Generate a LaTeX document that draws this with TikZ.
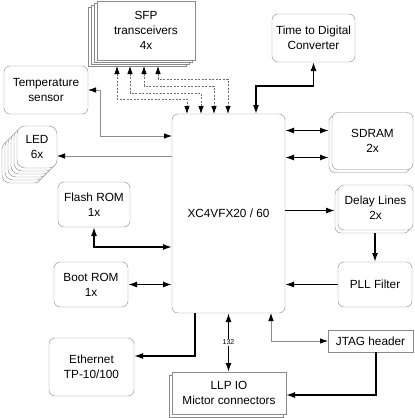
\documentclass[tikz,border=0pt]{standalone}
\usepackage{fontspec}
\setmainfont{Liberation Sans}
\usetikzlibrary{arrows.meta}
\definecolor{frame}{HTML}{8A8A8A}
\definecolor{wire}{HTML}{8C8C8C}
\definecolor{dotwire}{HTML}{707070}

\tikzset{
  box/.style={draw=frame,fill=white,rounded corners=6pt,align=center,inner sep=1pt,outer sep=0pt},
  sqbox/.style={draw=frame,fill=white,align=center,inner sep=1pt,outer sep=0pt},
  ledbox/.style={box,rounded corners=8pt,minimum width=40pt,minimum height=42pt},
  bus/.style={line width=1.5pt},
  ctl/.style={wire,line width=0.8pt,>={Latex[length=8pt,width=5.5pt,black]}},
  dots/.style={dotwire,line width=0.8pt,dash pattern=on 2pt off 1.5pt,>={Latex[length=8pt,width=5.5pt,black]}},
  num/.style={fill=white,inner sep=1pt,font=\fontsize{7}{8}\selectfont}
}

\begin{document}
\begin{tikzpicture}[x=1pt,y=-1pt,>={Latex[length=9pt,width=6pt]},font=\fontsize{11.8}{15}\selectfont]
\useasboundingbox (0,0) rectangle (415,418);
% stacked parts: copies behind, front box last
\foreach \i in {3,2,1}
  \node[sqbox,minimum width=98pt,minimum height=59pt] (sfp\i) at (146-3*\i,30.5+2*\i) {};
\node[sqbox,minimum width=98pt,minimum height=59pt] (sfp) at (146,30.5) {SFP\\transceivers\\4x};
\foreach \i in {5,...,1}
  \node[ledbox] (led\i) at (37-3*\i,147+3*\i) {};
\node[ledbox] (led) at (37,147) {LED\\6x};
\node[box,minimum width=81pt,minimum height=57pt] (sdram1) at (369.5,144) {};
\node[box,minimum width=81pt,minimum height=57pt] (sdram) at (372.5,141) {SDRAM\\2x};
\node[box,minimum width=75pt,minimum height=45pt] (delay1) at (372.5,210.5) {};
\node[box,minimum width=75pt,minimum height=45pt] (delay) at (375.5,207.5) {Delay Lines\\2x};
\node[sqbox,minimum width=114pt,minimum height=42pt] (llp1) at (226,396) {};
\node[sqbox,minimum width=114pt,minimum height=42pt] (llp) at (229,393) {LLP IO\\Mictor connectors};
% single parts
\node[box,minimum width=113pt,minimum height=199pt] (fpga) at (228.5,213.5) {XC4VFX20 / 60};
\node[box,minimum width=83pt,minimum height=48pt] (tdc) at (313.5,38) {Time to Digital\\Converter};
\node[box,minimum width=84pt,minimum height=48pt] (temp) at (46,90) {Temperature\\sensor};
\node[box,minimum width=72pt,minimum height=45pt] (flash) at (94,204.5) {Flash ROM\\1x};
\node[box,minimum width=74pt,minimum height=45pt] (boot) at (91,284.5) {Boot ROM\\1x};
\node[box,minimum width=85pt,minimum height=58pt] (eth) at (91.5,367) {Ethernet\\TP-10/100};
\node[sqbox,minimum width=85pt,minimum height=22pt] (jtag) at (370.5,341) {JTAG header};
\node[box,minimum width=74pt,minimum height=45pt] (pll) at (375,284.5) {PLL Filter};
% ports on the fpga
\coordinate (ledio) at ([yshift=-42pt]fpga.north west);
\coordinate (sd1) at ([yshift=13.5pt]sdram1.west);
\coordinate (sd2) at ([yshift=-13.5pt]sdram1.west);
% connectors
\foreach \a/\b/\d in {29/15/33,42/29/27,56/42/20,70/56/13}
  \draw[dots,<->] ([xshift=\a pt]sfp3.south west) -- ++(0,\d) -| ([xshift=\b pt]fpga.north west);
\draw[bus,<->] ([xshift=84pt]fpga.north west) -- ++(0,-28) -| (tdc.south);
\draw[ctl,<->] (temp.east) -- ++(12,0) |- ([yshift=-22pt]fpga.north west);
\draw[ctl,->] (ledio) -- (ledio -| led.east);
\draw[bus,<->] (flash.south) |- ([yshift=-133pt]fpga.north west);
\draw[bus,<->] (boot.east) -- (boot.east -| fpga.west);
\draw[bus,->] ([xshift=23pt]fpga.south west) |- ([yshift=11pt]eth.east);
\draw[bus,<->] (fpga.south) -- node[num]{132} (fpga.south |- llp.north);
\draw[ctl,<->] ([xshift=-14pt]fpga.south east) |- (jtag.west);
\draw[bus,->] ([xshift=5.5pt]jtag.south) |- ([yshift=-2pt]llp.east);
\draw[bus,<->] (sd1 -| fpga.east) -- (sd1);
\draw[bus,<->] (sd2 -| fpga.east) -- (sd2);
\draw[bus,->] (delay1.west -| fpga.east) -- (delay1.west);
\draw[bus,->] (delay1.south -| pll.north) -- (pll.north);
\draw[bus,->] (pll.west) -- (pll.west -| fpga.east);
\end{tikzpicture}
\end{document}
